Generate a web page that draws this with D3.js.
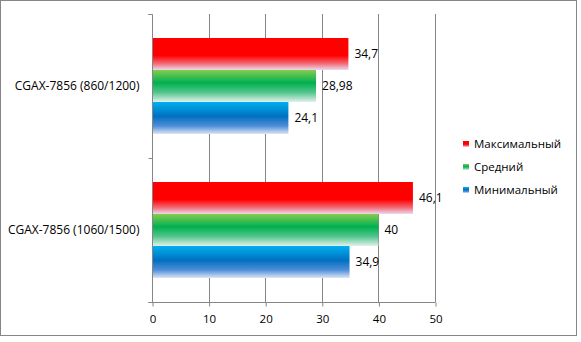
<!DOCTYPE html>
<html lang="ru">
<head>
<meta charset="utf-8" />
<title>CGAX-7856</title>
<script src="https://cdn.jsdelivr.net/npm/d3@7"></script>
<style>
  body { margin: 0; background: white; }
  text { font-family: "Open Sans", "Noto Sans", sans-serif; font-size: 11px; fill: #000; }
</style>
</head>
<body>
<script>

// data
var categories = ["CGAX-7856 (860/1200)", "CGAX-7856 (1060/1500)"];
var seriesNames = ["Максимальный", "Средний", "Минимальный"];
var maxVals = [34.7, 46.1];
var avgVals = [28.98, 40];
var minVals = [24.1, 34.9];
var labelsMax = ["34,7", "46,1"];
var labelsAvg = ["28,98", "40"];
var labelsMin = ["24,1", "34,9"];
var xTicks = [0, 10, 20, 30, 40, 50];

var w = 581, h = 342;
var pad = {left: 152, right: 146, top: 14, bottom: 40};

var svg = d3.select("body").append("svg")
  .attr("width", w).attr("height", h);

// outer frame
svg.append("rect")
  .attr("x", 0.5).attr("y", 0.5)
  .attr("width", 576).attr("height", 335)
  .attr("fill", "white").attr("stroke", "#868686");

var defs = svg.append("defs");
var grads = [
  {id: "gRed", stops: [[0, "#ff0000"], [0.55, "#ff0000"], [0.8, "#f46a78"], [1, "#e8dcec"]]},
  {id: "gGreen", stops: [[0, "#86cc50"], [0.4, "#00b050"], [0.7, "#52c58c"], [1, "#e2f0ec"]]},
  {id: "gBlue", stops: [[0, "#00b0f0"], [0.45, "#0070c0"], [0.75, "#4f8ed6"], [1, "#dde6f6"]]}
];
grads.forEach(function(g) {
  var lg = defs.append("linearGradient").attr("id", g.id)
    .attr("x1", 0).attr("y1", 0).attr("x2", 0).attr("y2", 1);
  g.stops.forEach(function(s) {
    lg.append("stop").attr("offset", s[0]).attr("stop-color", s[1]);
  });
});

var xScale = d3.scaleLinear().domain([0, 50])
  .range([pad.left, w - pad.right]);
var yScale = d3.scaleBand().domain(categories)
  .range([pad.top, h - pad.bottom]);
var inner = d3.scaleBand().domain(seriesNames)
  .range([0, yScale.bandwidth()]).paddingInner(0).paddingOuter(0.75);

// gridlines
svg.append("g").selectAll("line").data(xTicks.slice(1)).enter().append("line")
  .attr("x1", function(d) { return Math.round(xScale(d)) + 0.5; })
  .attr("x2", function(d) { return Math.round(xScale(d)) + 0.5; })
  .attr("y1", pad.top).attr("y2", h - pad.bottom)
  .attr("stroke", "#868686");

// bars
var series = [
  {name: seriesNames[0], vals: maxVals, labels: labelsMax, fill: "url(#gRed)"},
  {name: seriesNames[1], vals: avgVals, labels: labelsAvg, fill: "url(#gGreen)"},
  {name: seriesNames[2], vals: minVals, labels: labelsMin, fill: "url(#gBlue)"}
];
series.forEach(function(s) {
  var g = svg.append("g");
  g.selectAll("rect").data(categories).enter().append("rect")
    .attr("x", xScale(0))
    .attr("y", function(c) { return yScale(c) + inner(s.name); })
    .attr("width", function(c, i) { return xScale(s.vals[i]) - xScale(0); })
    .attr("height", inner.bandwidth())
    .attr("fill", s.fill);
  g.selectAll("text").data(categories).enter().append("text")
    .attr("x", function(c, i) { return xScale(s.vals[i]) + 6; })
    .attr("y", function(c) { return yScale(c) + inner(s.name) + inner.bandwidth() / 2; })
    .attr("dy", "0.35em")
    .style("font-size", "12px")
    .text(function(c, i) { return s.labels[i]; });
});

// x axis
var xAxis = d3.axisBottom(xScale).tickValues(xTicks).tickSize(4).tickPadding(8);
var gx = svg.append("g")
  .attr("transform", "translate(0.5," + (h - pad.bottom + 0.5) + ")")
  .call(xAxis);
gx.select(".domain").attr("stroke", "#868686").attr("d", "M" + (pad.left - 4) + ",0H" + (w - pad.right));
gx.selectAll("line").attr("stroke", "#868686");
gx.selectAll("text").style("font-size", "11.5px").attr("fill", "#000");

// y axis
var yAxis = d3.axisLeft(yScale).tickSize(0).tickPadding(13);
var gy = svg.append("g")
  .attr("transform", "translate(" + (pad.left + 0.5) + ",0)")
  .call(yAxis);
gy.select(".domain").attr("stroke", "#868686").attr("d", "M-4," + (pad.top + 0.5) + "H0V" + (h - pad.bottom));
gy.selectAll("text").style("font-size", "12px").attr("fill", "#000");
gy.selectAll(".sep").data([pad.top, yScale(categories[1]), h - pad.bottom]).enter().append("line")
  .attr("x1", -4).attr("x2", 0)
  .attr("y1", function(d) { return d + 0.5; }).attr("y2", function(d) { return d + 0.5; })
  .attr("stroke", "#868686");

// legend
var legend = svg.append("g").attr("transform", "translate(463,144)");
series.forEach(function(s, i) {
  var row = legend.append("g").attr("transform", "translate(0," + (i * 23) + ")");
  row.append("rect").attr("x", 0).attr("y", -3).attr("width", 6).attr("height", 6)
    .attr("fill", s.fill);
  row.append("text").attr("x", 11).attr("y", 0).attr("dy", "0.35em")
    .style("font-size", "11.5px").text(s.name);
});

</script>
</body>
</html>
